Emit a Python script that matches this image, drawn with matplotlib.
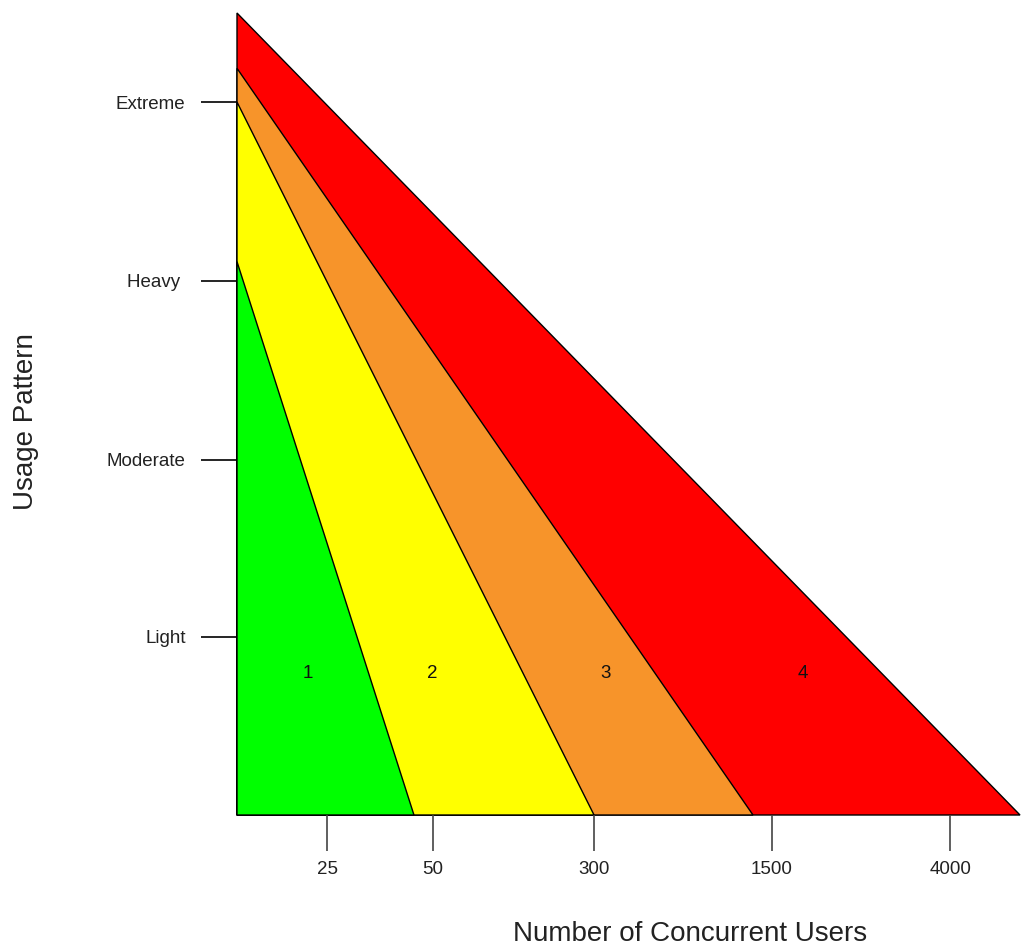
#Capacity bands: usage pattern vs number of concurrent users

import matplotlib.pyplot as plt
from matplotlib.patches import Polygon

plt.rcParams['font.family'] = ['Liberation Sans', 'DejaVu Sans']

#band outlines, in axis units (0-100 on both axes)
band_names = ['1', '2', '3', '4']
band_colors = ['#00FF00', '#FFFF00', '#F7942A', '#FF0000']
band_x_end = [22.6, 45.6, 65.9, 100.0]   #where each band meets the x axis
band_y_top = [69.0, 88.9, 93.1, 100.0]   #where each band meets the y axis
band_label_x = [9.1, 25.0, 47.1, 72.2]
band_label_y = 17.7

#axis ticks
user_ticks = [11.5, 25.0, 45.6, 68.3, 91.1]
user_labels = ['25', '50', '300', '1500', '4000']
usage_ticks = [22.2, 44.3, 66.6, 88.9]
usage_labels = ['Light', 'Moderate', 'Heavy ', 'Extreme']

W, H = 1027, 946
fig = plt.figure(figsize=(W / 100, H / 100), dpi=100)
ax = fig.add_axes([237 / W, (H - 815) / H, 783 / W, 802 / H])
ax.set_xlim(0, 100)
ax.set_ylim(0, 100)

#draw biggest triangle first so the smaller ones sit on top
for i in reversed(range(len(band_names))):
	tri = Polygon([(0, 0), (band_x_end[i], 0), (0, band_y_top[i])], closed=True,
		facecolor=band_colors[i], edgecolor='black', linewidth=1.0, clip_on=False)
	ax.add_patch(tri)
	ax.text(band_label_x[i], band_label_y, band_names[i], ha='center', va='center', fontsize=13.5, color='#111111')

for side in ['top', 'right', 'left', 'bottom']:
	ax.spines[side].set_visible(False)

ax.set_xticks(user_ticks)
ax.set_xticklabels(user_labels)
ax.set_yticks(usage_ticks)
ax.set_yticklabels(usage_labels)
ax.tick_params(axis='x', length=26, width=1.2, color='#444444', pad=7, labelsize=13.5, labelcolor='#222222')
ax.tick_params(axis='y', length=26, width=1.2, color='black', pad=11, labelsize=13.5, labelcolor='#222222')

#axis titles
fig.text(690 / W, 1 - 941 / H, 'Number of Concurrent Users', ha='center', va='baseline', fontsize=20, color='#222222')
fig.text(26 / W, 1 - 422 / H, 'Usage Pattern', ha='center', va='center', rotation=90, fontsize=20, color='#222222')

plt.savefig('out.png', dpi=100)
